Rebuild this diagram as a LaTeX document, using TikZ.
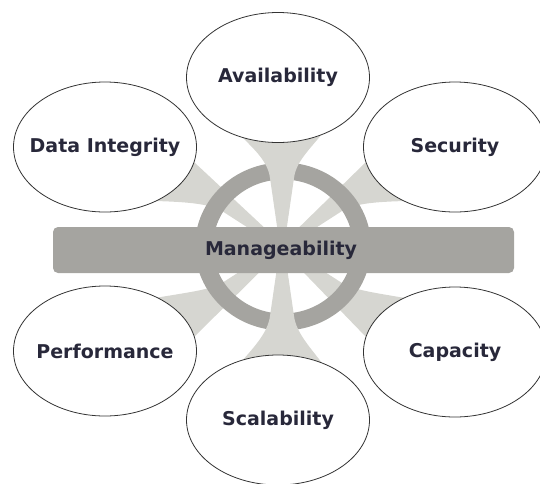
\documentclass[tikz,border=0pt]{standalone}
\usepackage{fontspec}
\setmainfont{DejaVu Sans}
\usetikzlibrary{shapes.geometric}
\definecolor{ringc}{RGB}{165,164,160}
\definecolor{spokec}{RGB}{214,214,209}
\definecolor{textc}{RGB}{40,40,58}
\begin{document}
\begin{tikzpicture}[x=1pt,y=-1pt,
  spoke/.style={fill=spokec},
  bubble/.style={ellipse, draw=black!80, line width=0.8pt, fill=white,
    minimum width=183pt, minimum height=130pt, inner sep=0pt,
    label={[txt]center:#1}},
  txt/.style={font=\fontsize{19}{22}\selectfont\bfseries, text=textc, inner sep=0pt},
  bar/.style={rectangle, rounded corners=5pt, fill=ringc,
    minimum width=461pt, minimum height=46pt, inner sep=0pt}]
\useasboundingbox (0,0) rectangle (540,483);
\clip (0,0) rectangle (540,483);
% diagonal spokes (under the ring)
% to Security
\fill[spoke] (281,245) -- (366,162) -- (455,147) -- (405,201)
  .. controls (370,202) and (355,204) .. (342,211) -- (283,249) -- cycle;
% to Data Integrity
\fill[spoke] (283,245) -- (194,162) -- (105,147) -- (155,201)
  .. controls (190,202) and (209,204) .. (222,211) -- (281,249) -- cycle;
% to Capacity
\fill[spoke] (281,249) -- (366,337) -- (455,352) -- (405,298)
  .. controls (370,292) and (355,290) .. (342,283) -- (283,245) -- cycle;
% to Performance
\fill[spoke] (283,249) -- (194,337) -- (105,352) -- (155,298)
  .. controls (190,292) and (209,290) .. (222,283) -- (281,245) -- cycle;
% ring
\fill[ringc, even odd rule] (283,246.5) ellipse [x radius=88pt, y radius=84pt]
  (283,246.5) ellipse [x radius=70pt, y radius=67pt];
% vertical spokes (over the ring)
\fill[spoke] (280,247) -- (270,178) .. controls (268,162) and (255,150) .. (242,137)
  -- (278,77) -- (322,134) .. controls (309,150) and (296,162) .. (294,178) -- (284,247) -- cycle;
\fill[spoke] (280,247) -- (270,316) .. controls (268,332) and (255,346) .. (242,361)
  -- (278,420) -- (322,363) .. controls (309,346) and (296,332) .. (294,316) -- (284,247) -- cycle;
% central bar
\node[bar] (mgmt) at (283.5,250) {};
\node[txt] (mgmttext) at (281,250) {Manageability};
% ellipses
\node[bubble=Availability] (avail) at (278,77.5) {};
\node[bubble=Data Integrity] (integ) at (105,147) {};
\node[bubble=Security] (secur) at (455,147) {};
\node[bubble=Performance] (perf) at (105,351) {};
\node[bubble=Capacity] (capac) at (455,352) {};
\node[bubble=Scalability] (scal) at (278,420) {};
\end{tikzpicture}
\end{document}
